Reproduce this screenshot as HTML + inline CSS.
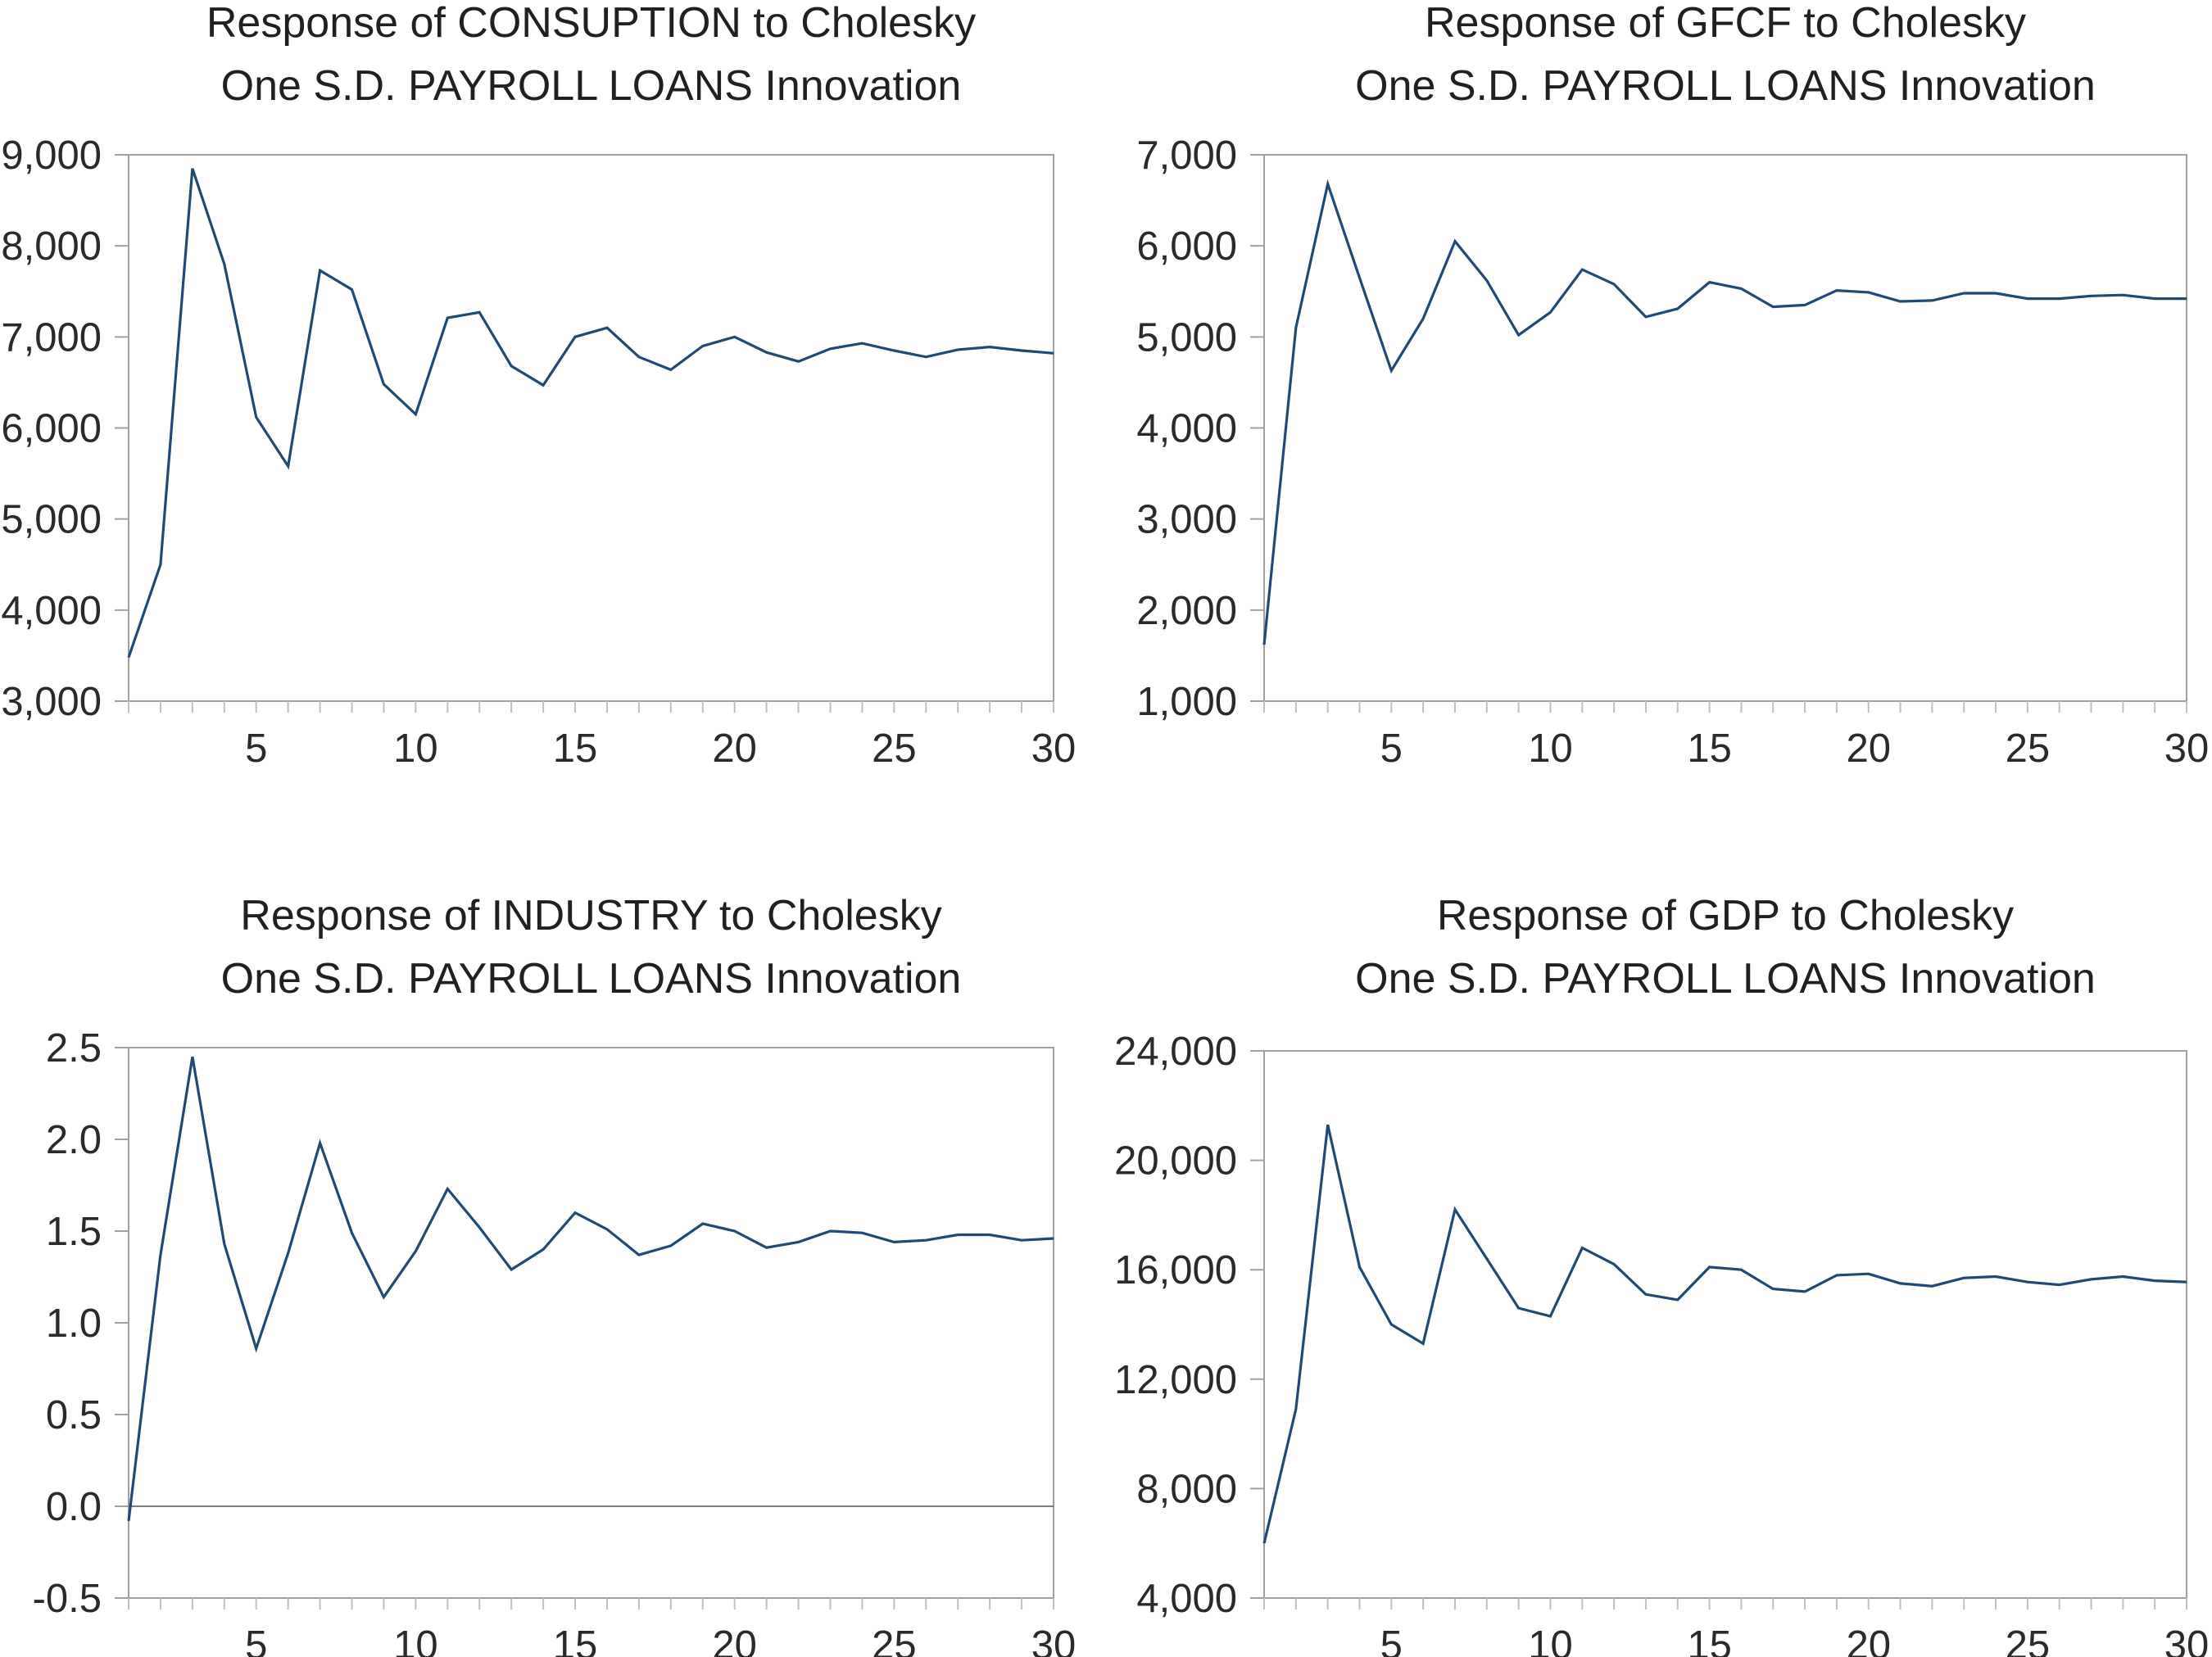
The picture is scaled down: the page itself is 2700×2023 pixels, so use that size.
<!DOCTYPE html>
<html><head><meta charset="utf-8"><style>
html,body{margin:0;padding:0;background:#fff;}
svg{display:block;font-family:"Liberation Sans",sans-serif;}
</style></head><body>
<svg id="chart" width="2700" height="2023" viewBox="0 0 2700 2023" xmlns="http://www.w3.org/2000/svg"></svg>
<script>
const periods = Array.from({length:30},(_,i)=>i+1);
const consumptionValues = [3480,4500,8850,7800,6120,5580,7730,7520,6480,6150,7210,7270,6680,6470,7000,7100,6780,6640,6900,7000,6830,6730,6870,6930,6850,6780,6860,6890,6850,6820];
const gfcfValues = [1620,5100,6680,5650,4630,5200,6050,5620,5020,5270,5740,5580,5220,5310,5600,5530,5330,5350,5510,5490,5390,5400,5480,5480,5420,5420,5450,5460,5420,5420];
const industryValues = [-0.08,1.37,2.45,1.43,0.86,1.38,1.98,1.49,1.14,1.39,1.73,1.52,1.29,1.40,1.60,1.51,1.37,1.42,1.54,1.50,1.41,1.44,1.50,1.49,1.44,1.45,1.48,1.48,1.45,1.46];
const gdpValues = [6000,10900,21300,16100,14000,13300,18200,16400,14600,14300,16800,16200,15100,14900,16100,16000,15300,15200,15800,15850,15500,15400,15700,15750,15550,15450,15650,15750,15600,15550];
const xTickLabels = [5,10,15,20,25,30];
const consumptionTicks = [3000,4000,5000,6000,7000,8000,9000];
const gfcfTicks = [1000,2000,3000,4000,5000,6000,7000];
const industryTicks = [-0.5,0.0,0.5,1.0,1.5,2.0,2.5];
const gdpTicks = [4000,8000,12000,16000,20000,24000];

const NS="http://www.w3.org/2000/svg";
const svg=document.getElementById('chart');
function mk(tag,attrs,parent){const e=document.createElementNS(NS,tag);for(const k in attrs)e.setAttribute(k,attrs[k]);parent.appendChild(e);return e;}

const panels=[
 {name:'consumption',t1:'Response of CONSUPTION to Cholesky',vals:consumptionValues,ticks:consumptionTicks,fmt:v=>v.toLocaleString('en-US'),L:157,R:1286,T:189,B:856,zero:false},
 {name:'gfcf',t1:'Response of GFCF to Cholesky',vals:gfcfValues,ticks:gfcfTicks,fmt:v=>v.toLocaleString('en-US'),L:1543,R:2669,T:189,B:856,zero:false},
 {name:'industry',t1:'Response of INDUSTRY to Cholesky',vals:industryValues,ticks:industryTicks,fmt:v=>v.toFixed(1),L:157,R:1286,T:1279,B:1951,zero:true},
 {name:'gdp',t1:'Response of GDP to Cholesky',vals:gdpValues,ticks:gdpTicks,fmt:v=>v.toLocaleString('en-US'),L:1543,R:2669,T:1283,B:1951,zero:false}
];

panels.forEach(p=>{
 const g=mk('g',{},svg);
 
 
 const ymin=p.ticks[0],ymax=p.ticks[p.ticks.length-1];
 const xs=v=>p.L+(v-1)/(29)*(p.R-p.L);
 const ys=v=>p.B-(v-ymin)/(ymax-ymin)*(p.B-p.T);
 const cx=(p.L+p.R)/2;
 const titleTop = p.T<500 ? 26 : 1116;
 const t1=mk('text',{x:cx,y:titleTop+19,'text-anchor':'middle','font-size':52,fill:'#231f20'},g);
 t1.textContent=p.t1;
 
 
 const t2=mk('text',{x:cx,y:titleTop+96,'text-anchor':'middle','font-size':52,fill:'#231f20'},g);
 t2.textContent='One S.D. PAYROLL LOANS Innovation';
 
 
 const frame=mk('rect',{x:p.L,y:p.T,width:p.R-p.L,height:p.B-p.T,fill:'none',stroke:'#a0a0a0','stroke-width':2},g);
 
 
 p.ticks.forEach(v=>{
  const y=ys(v);
  const tk=mk('line',{x1:p.L-17,x2:p.L,y1:y,y2:y,stroke:'#a0a0a0','stroke-width':2},g);
  
  
  const lb=mk('text',{x:p.L-33,y:y+17,'text-anchor':'end','font-size':49,fill:'#2a2a2a'},g);
  lb.textContent=p.fmt(v);
  
  
 });
 periods.forEach(v=>{
  const x=xs(v);
  const tk=mk('line',{x1:x,x2:x,y1:p.B,y2:p.B+14,stroke:'#c0c0c0','stroke-width':2},g);
  
  
 });
 xTickLabels.forEach(v=>{
  const lb=mk('text',{x:xs(v),y:p.B+74,'text-anchor':'middle','font-size':49,fill:'#2a2a2a'},g);
  lb.textContent=v;
  
  
 });
 if(p.zero){
  const z=mk('line',{x1:p.L,x2:p.R,y1:ys(0),y2:ys(0),stroke:'#555','stroke-width':1.5},g);
  
  
 }
 const d=p.vals.map((v,i)=>(i?'L':'M')+xs(periods[i]).toFixed(1)+','+ys(v).toFixed(1)).join(' ');
 const path=mk('path',{d:d,fill:'none',stroke:'#1f4a75','stroke-width':3.2,'stroke-linejoin':'miter'},g);
 
 
});
</script>
</body></html>
